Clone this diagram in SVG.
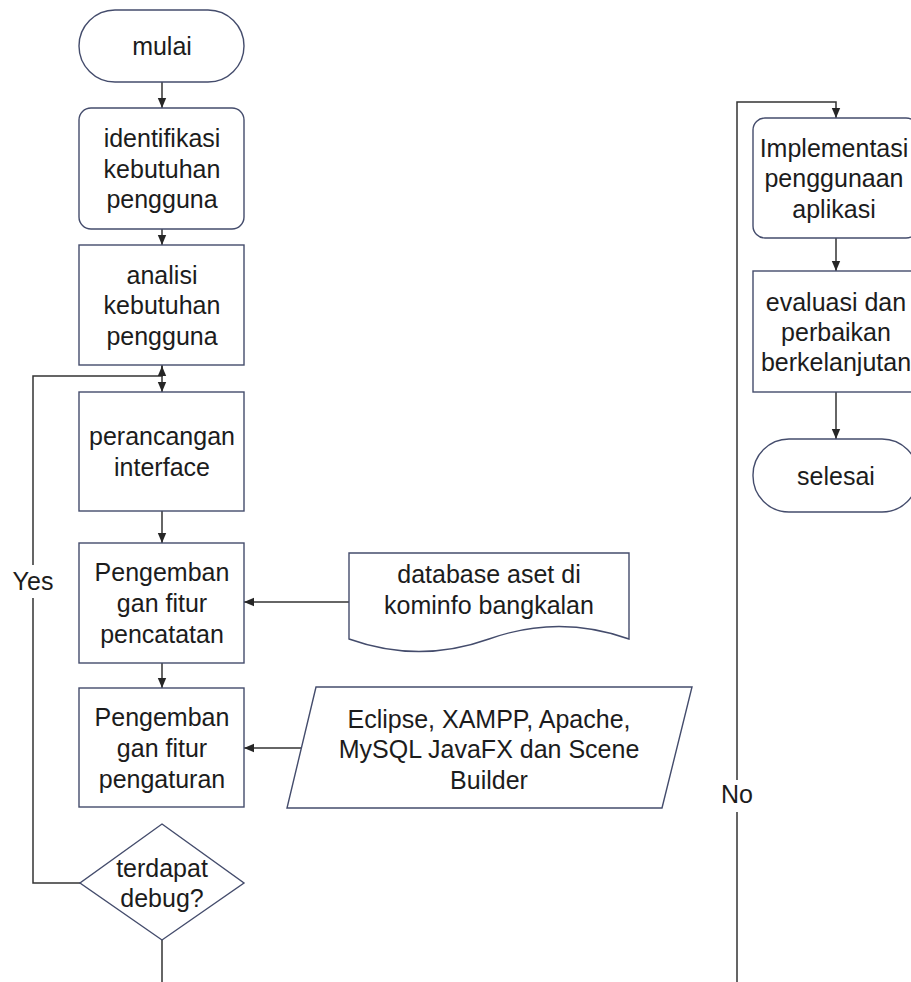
<svg xmlns="http://www.w3.org/2000/svg" width="911" height="982" viewBox="0 0 911 982">
<defs>
<marker id="arr" markerWidth="10" markerHeight="10" viewBox="0 0 10 10" refX="10" refY="5" orient="auto" markerUnits="userSpaceOnUse">
<path d="M0,0.8 L10,5 L0,9.2 Z" fill="#262626"/>
</marker>
<style>
.s{fill:#fff;stroke:#444c6c;stroke-width:1.4}
.t{font-family:"Liberation Sans",Arial,sans-serif;font-size:25px;fill:#1c1c1c;text-anchor:middle}
.c{fill:none;stroke:#333;stroke-width:1.5}
.a{marker-end:url(#arr)}
</style>
</defs>
<rect width="911" height="982" fill="#fff"/>
<g id="connectors">
<path class="c a" d="M162,82 V108"/>
<path class="c a" d="M162,229 V245"/>
<path class="c a" d="M162,365 V392"/>
<path class="c a" d="M162,511 V543"/>
<path class="c a" d="M162,663 V688"/>
<path class="c a" d="M80,883 H33 V376 H162 V366"/>
<path class="c" d="M162,940 V982"/>
<path class="c a" d="M737,982 V102 H836 V118"/>
<path class="c a" d="M349,602 H244"/>
<path class="c a" d="M301,748 H244"/>
<path class="c a" d="M836,238 V271"/>
<path class="c a" d="M836,392 V439"/>
<rect x="14" y="565" width="38" height="33" fill="#fff"/>
<text class="t" x="33" y="590">Yes</text>
<rect x="721" y="780" width="32" height="32" fill="#fff"/>
<text class="t" x="737" y="803">No</text>
</g>
<g id="mulai">
<rect class="s" x="79" y="10" width="165" height="72" rx="36"/>
<text class="t" x="162" y="55">mulai</text>
</g>
<g id="identifikasi">
<rect class="s" x="79" y="108" width="165" height="121" rx="12"/>
<text class="t" x="162" y="147">identifikasi</text>
<text class="t" x="162" y="177.5">kebutuhan</text>
<text class="t" x="162" y="208">pengguna</text>
</g>
<g id="analisi">
<rect class="s" x="79" y="245" width="165" height="120"/>
<text class="t" x="162" y="283.5">analisi</text>
<text class="t" x="162" y="314">kebutuhan</text>
<text class="t" x="162" y="344.5">pengguna</text>
</g>
<g id="perancangan">
<rect class="s" x="79" y="392" width="165" height="119"/>
<text class="t" x="162" y="445">perancangan</text>
<text class="t" x="162" y="475.5">interface</text>
</g>
<g id="pencatatan">
<rect class="s" x="79" y="543" width="165" height="120"/>
<text class="t" x="162" y="581">Pengemban</text>
<text class="t" x="162" y="612">gan fitur</text>
<text class="t" x="162" y="643">pencatatan</text>
</g>
<g id="pengaturan">
<rect class="s" x="79" y="688" width="165" height="119"/>
<text class="t" x="162" y="726">Pengemban</text>
<text class="t" x="162" y="757">gan fitur</text>
<text class="t" x="162" y="788">pengaturan</text>
</g>
<g id="debug">
<path class="s" d="M162,824 L244,883 L162,940 L80,883 Z"/>
<text class="t" x="162" y="877">terdapat</text>
<text class="t" x="162" y="907">debug?</text>
</g>
<g id="database">
<path class="s" d="M349,553 H629 V639 Q559,614 489,639 Q419,664 349,639 Z"/>
<text class="t" x="489" y="583">database aset di</text>
<text class="t" x="489" y="614">kominfo bangkalan</text>
</g>
<g id="tools">
<path class="s" d="M316,687 H692 L662,808 H287 Z"/>
<text class="t" x="489" y="728">Eclipse, XAMPP, Apache,</text>
<text class="t" x="489" y="758">MySQL JavaFX dan Scene</text>
<text class="t" x="489" y="789">Builder</text>
</g>
<g id="implementasi">
<rect class="s" x="753" y="118" width="165" height="120" rx="12"/>
<text class="t" x="834" y="156.5">Implementasi</text>
<text class="t" x="834" y="187">penggunaan</text>
<text class="t" x="834" y="217.5">aplikasi</text>
</g>
<g id="evaluasi">
<rect class="s" x="753" y="271" width="165" height="121"/>
<text class="t" x="836" y="311">evaluasi dan</text>
<text class="t" x="836" y="341">perbaikan</text>
<text class="t" x="836" y="371">berkelanjutan</text>
</g>
<g id="selesai">
<rect class="s" x="753" y="439" width="165" height="73" rx="36"/>
<text class="t" x="836" y="484.5">selesai</text>
</g>
</svg>
